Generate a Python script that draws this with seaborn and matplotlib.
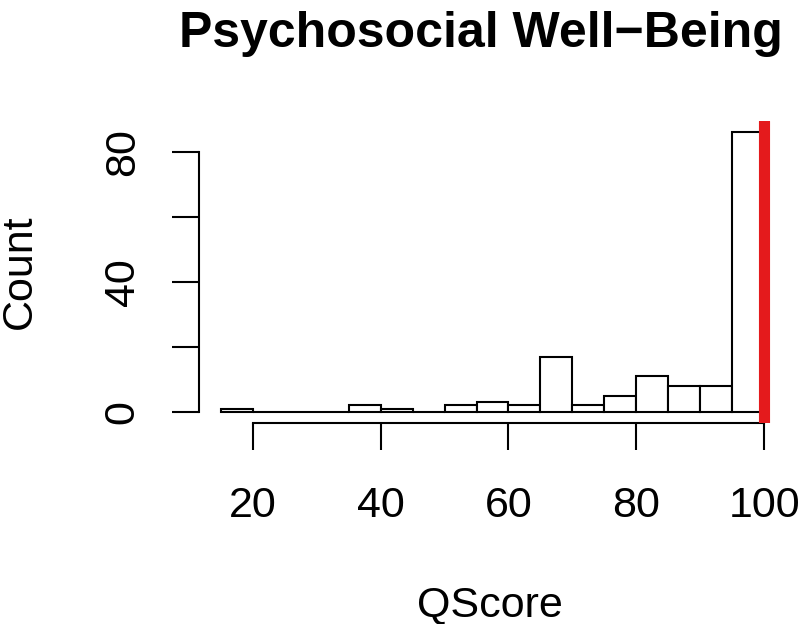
import numpy as np
import seaborn as sns
import matplotlib
matplotlib.use('Agg')
import matplotlib.pyplot as plt

# histogram counts (bins of width 5, from 15 to 100)
bin_edges = [15, 20, 25, 30, 35, 40, 45, 50, 55, 60, 65, 70, 75, 80, 85, 90, 95, 100]
counts = [1, 0, 0, 0, 2, 1, 0, 2, 3, 2, 17, 2, 5, 11, 8, 8, 86]
x_ticks = [20, 40, 60, 80, 100]
y_ticks = [0, 20, 40, 60, 80]
y_tick_labels = ['0', '', '40', '', '80']
ref_line = 100

sns.set_style('white')
plt.rcParams['font.family'] = ['Liberation Sans', 'DejaVu Sans']
plt.rcParams['text.color'] = 'black'
plt.rcParams['xtick.color'] = 'black'
plt.rcParams['ytick.color'] = 'black'

mids = np.array(bin_edges[:-1]) + 2.5

fig = plt.figure(figsize=(8, 6.24), dpi=100)
ax = fig.add_axes([0.24875, 0.3221, 0.73375, 0.4840])

sns.histplot(x=mids, weights=counts, bins=bin_edges, color='white', edgecolor='black',
             linewidth=1.5, alpha=1, ax=ax)
ax.axvline(ref_line, color='#E41A1C', linewidth=8, zorder=5)

ax.set_xlim(11.6, 103.4)
ax.set_ylim(-3.44, 89.44)

for side in ['top', 'right']:
    ax.spines[side].set_visible(False)
ax.spines['bottom'].set_bounds(20, 100)
ax.spines['left'].set_bounds(0, 80)
for side in ['bottom', 'left']:
    ax.spines[side].set_linewidth(1.5)
    ax.spines[side].set_color('black')

ax.set_xticks(x_ticks)
ax.set_xticklabels([str(t) for t in x_ticks])
ax.set_yticks(y_ticks)
ax.set_yticklabels(y_tick_labels, rotation=90, va='center')
ax.tick_params(axis='both', direction='out', length=19.5, width=1.5, colors='black',
               labelsize=31, bottom=True, left=True)
ax.tick_params(axis='x', pad=26)
ax.tick_params(axis='y', pad=21)

ax.set_xlabel('')
ax.set_ylabel('')
fig.text(0.6006, 0.924, 'Psychosocial Well\u2212Being', fontsize=36, fontweight='bold',
         ha='center', va='baseline', color='black')
fig.text(0.6125, 0.012, 'QScore', fontsize=31, ha='center', va='baseline', color='black')
fig.text(0.025, 0.565, 'Count', fontsize=31, rotation=90, ha='center', va='center',
         color='black')

fig.savefig('out.png', dpi=100)
